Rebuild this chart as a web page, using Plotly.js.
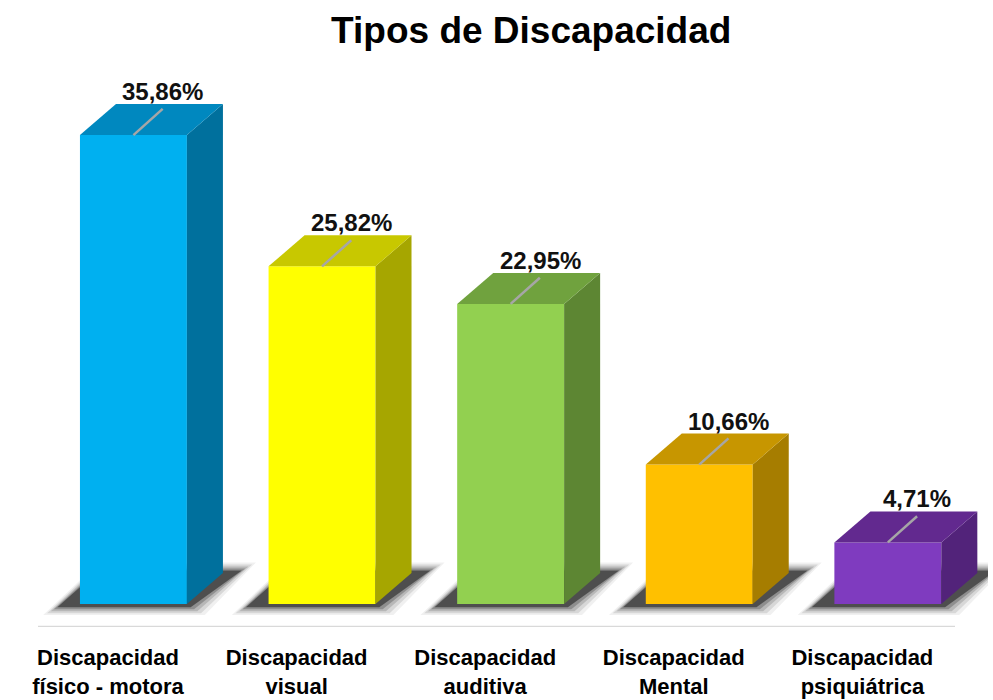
<!DOCTYPE html>
<html>
<head>
<meta charset="utf-8">
<script src="https://cdn.plot.ly/plotly-3.0.1.min.js"></script>
<style>html,body{margin:0;padding:0;background:#fff;}#chart{width:993px;height:700px;}</style>
</head>
<body>
<div id="chart"></div>
<script>
// ---- data ----
const categories = ["Discapacidad<br>físico - motora", "Discapacidad<br>visual", "Discapacidad<br>auditiva", "Discapacidad<br>Mental", "Discapacidad<br>psiquiátrica"];
const values = [35.86, 25.82, 22.95, 10.66, 4.71];
const valueLabels = ["35,86%", "25,82%", "22,95%", "10,66%", "4,71%"];
const frontColors = ["#00B0F0", "#FFFF00", "#92D050", "#FFC000", "#7F3BBF"];
const topColors   = ["#0088BF", "#C8C800", "#70A23E", "#C79600", "#62298F"];
const sideColors  = ["#00709D", "#A6A600", "#5D8633", "#A67D00", "#52237A"];

// ---- geometry (styling) ----
const barW = 0.567;     // bar width in category units
const depthX = 0.191;   // 3D depth offset (x, category units)
const depthY = 2.37;    // 3D depth offset (y, value units)
const labelShift = -0.135; // category labels sit slightly left of bar centres
const idx = values.map((_, i) => i);
const xMin = -0.506, xAxisEnd = 4.356, xMax = 4.531, yMin = -1.76, yMax = 41.6;

const traces = [];

// shadows (blurred by layering)
const shadowLayers = [
  {grow: 0.075, gy: 0.6, a: 0.06},
  {grow: 0.055, gy: 0.45, a: 0.10},
  {grow: 0.035, gy: 0.30, a: 0.15},
  {grow: 0.018, gy: 0.15, a: 0.22},
  {grow: 0.0, gy: 0.0, a: 0.45}
];
idx.forEach(i => {
  const xl = i - barW / 2, xr = i + barW / 2;
  shadowLayers.forEach(L => {
    traces.push({
      type: "scatter", mode: "lines", hoverinfo: "skip", showlegend: false,
      x: [xl - 0.12 - L.grow, xr + 0.02 + L.grow, xr + depthX + 0.10 + L.grow, xl + 0.1, xl - 0.12 - L.grow],
      y: [-0.25 - L.gy, -0.25 - L.gy, depthY + 0.2 + L.gy, depthY + 0.2 + L.gy, -0.25 - L.gy],
      fill: "toself", fillcolor: "rgba(0,0,0," + L.a + ")", line: {width: 0}
    });
  });
});

// front, side and top faces
idx.forEach(i => {
  const xl = i - barW / 2, xr = i + barW / 2, v = values[i];
  traces.push({
    type: "scatter", mode: "lines", hoverinfo: "skip", showlegend: false,
    x: [xl, xr, xr, xl, xl],
    y: [0, 0, v, v, 0],
    fill: "toself", fillcolor: frontColors[i], line: {width: 0}
  });
  traces.push({
    type: "scatter", mode: "lines", hoverinfo: "skip", showlegend: false,
    x: [xr, xr + depthX, xr + depthX, xr, xr],
    y: [0, depthY, v + depthY, v, 0],
    fill: "toself", fillcolor: sideColors[i], line: {width: 0}
  });
  traces.push({
    type: "scatter", mode: "lines", hoverinfo: "skip", showlegend: false,
    x: [xl, xr, xr + depthX, xl + depthX, xl],
    y: [v, v, v + depthY, v + depthY, v],
    fill: "toself", fillcolor: topColors[i], line: {width: 0}
  });
  // leader line on the top face
  traces.push({
    type: "scatter", mode: "lines", hoverinfo: "skip", showlegend: false,
    x: [i, i + 0.155], y: [v, v + 2.0],
    line: {color: "#A6A6A6", width: 2.5}
  });
});

const annotations = idx.map(i => ({
  x: i + 0.156, y: values[i] + depthY, xref: "x", yref: "y",
  text: valueLabels[i], showarrow: false, yanchor: "bottom", yshift: -3,
  font: {family: "Liberation Sans, Arial, sans-serif", size: 24, color: "#111", weight: "bold"}
}));

const layout = {
  width: 993, height: 700,
  margin: {l: 38, r: 5, t: 60, b: 73},
  paper_bgcolor: "#fff", plot_bgcolor: "#fff",
  title: {
    text: "Tipos de Discapacidad", x: 0.535, xanchor: "center", y: 0.975, yanchor: "top",
    font: {family: "Liberation Sans, Arial, sans-serif", size: 37, color: "#000", weight: "bold"}
  },
  xaxis: {
    range: [xMin, xMax], fixedrange: true,
    tickvals: idx.map(i => i + labelShift), ticktext: categories,
    showgrid: false, zeroline: false, showline: false,
    ticks: "", ticklabelstandoff: 15,
    tickfont: {family: "Liberation Sans, Arial, sans-serif", size: 22, color: "#000", weight: "bold"}
  },
  yaxis: {range: [yMin, yMax], visible: false, fixedrange: true},
  shapes: [{
    type: "line", xref: "x", yref: "y", x0: xMin, x1: xAxisEnd, y0: yMin, y1: yMin,
    line: {color: "#D9D9D9", width: 2.5}, layer: "below"
  }],
  annotations: annotations
};

Plotly.newPlot("chart", traces, layout, {displayModeBar: false, staticPlot: true});
</script>
</body>
</html>
